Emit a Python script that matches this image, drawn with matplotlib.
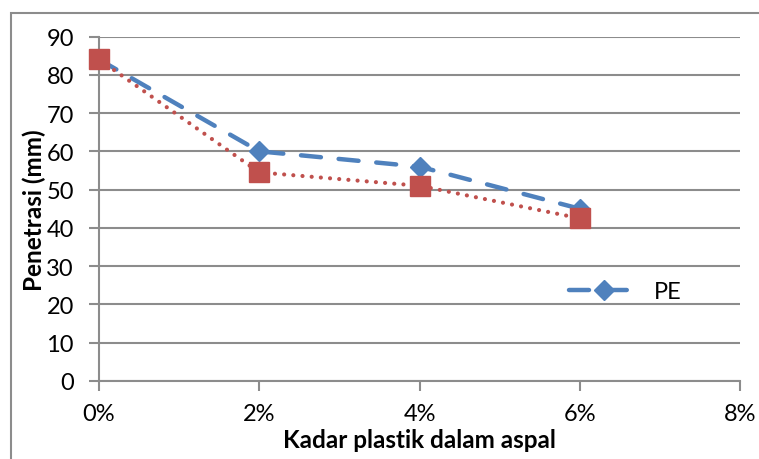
import numpy as np
import matplotlib.pyplot as plt
from matplotlib.patches import Rectangle

# kadar plastik (%) and penetrasi values
kadar = [0, 2, 4, 6]
pe = [84, 60, 56, 45]
series2 = [84, 54.5, 51, 42.5]

blue = '#4F81BD'
red = '#C0504D'
grid_col = '#8C8C8C'

plt.rcParams['font.family'] = ['Lato', 'DejaVu Sans']

fig = plt.figure(figsize=(7.59, 4.60), dpi=100)
ax = fig.add_axes([99/759, 1 - 382/460, (740 - 99)/759, (382 - 37.5)/460])

ax.plot(kadar, series2, color=red, lw=3, linestyle=(0, (0.01, 2.2)),
        dash_capstyle='round', marker='s', ms=14, mfc=red, mec=red,
        zorder=3, clip_on=False)
ax.plot(kadar, pe, color=blue, lw=3.2, linestyle=(0, (4.5, 4)),
        dash_capstyle='round', marker='D', ms=10, mfc=blue, mec=blue,
        label='PE', zorder=2, clip_on=False)

ax.set_xlim(0, 8)
ax.set_ylim(0, 90)
ax.set_yticks(np.arange(0, 91, 10))
ax.set_xticks([0, 2, 4, 6, 8])
ax.set_xticklabels(['0%', '2%', '4%', '6%', '8%'])
ax.grid(axis='y', color=grid_col, lw=1.5)
ax.set_axisbelow(True)

for s in ['top', 'right']:
    ax.spines[s].set_visible(False)
for s in ['left', 'bottom']:
    ax.spines[s].set_color(grid_col)
    ax.spines[s].set_linewidth(1.5)
ax.tick_params(axis='both', color=grid_col, width=1.5, length=7, labelsize=17)
ax.tick_params(axis='y', pad=11)
ax.tick_params(axis='x', pad=9)

ax.set_xlabel('Kadar plastik dalam aspal', fontsize=17.5, fontweight='bold', labelpad=3)
ax.set_ylabel('Penetrasi (mm)', fontsize=17.5, fontweight='bold', labelpad=0)

ax.legend(loc='center left', bbox_to_anchor=(0.7, 0.26), frameon=False,
          fontsize=17, handlelength=3.0, handletextpad=0.6)

# outer chart-area border
fig.patches.append(Rectangle((11/759, -0.1), 1.2, 1 - 14/460 + 0.1,
                             transform=fig.transFigure, fill=False,
                             edgecolor=grid_col, lw=1.5))

plt.savefig('out.png', dpi=100)
